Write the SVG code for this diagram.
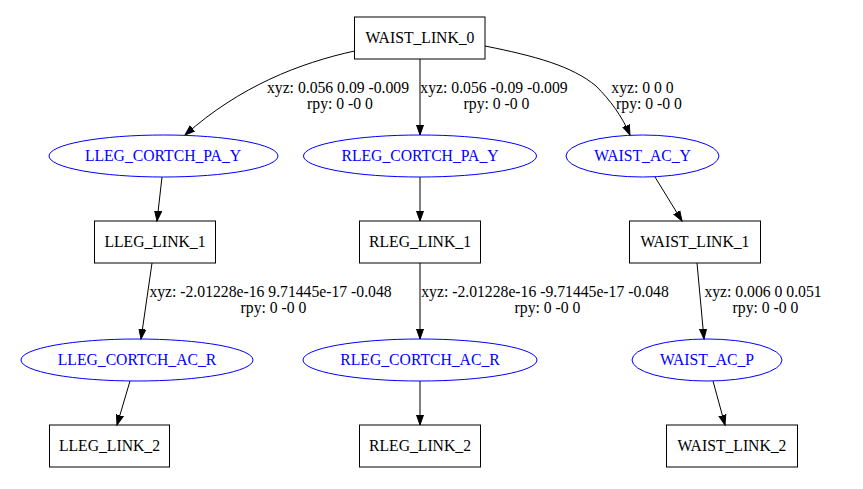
<svg xmlns="http://www.w3.org/2000/svg" width="863" height="489" viewBox="0 0 863 489" font-family="'Liberation Serif', 'Times New Roman', Times, serif" font-size="15.7">
<defs>
<marker id="ah" markerUnits="userSpaceOnUse" markerWidth="12" markerHeight="10" refX="10" refY="0" viewBox="0 -5 12 10" orient="auto">
<path d="M0,-3.5 L10,0 L0,3.5 Z" fill="#000" stroke="#000" stroke-width="1"/>
</marker>
</defs>
<style>
text{font-family:'Liberation Serif','Times New Roman',Times,serif;font-size:15.7px;text-anchor:middle}
.link rect{fill:none;stroke:#000;stroke-width:1}
.link text{fill:#000}
.joint ellipse{fill:none;stroke:#0000ff;stroke-width:1}
.joint text{fill:#0000ff}
.edge{fill:none;stroke:#000;stroke-width:1;marker-end:url(#ah)}
.lbl{fill:#000}
</style>
<rect width="863" height="489" fill="#fff"/>
<g id="connectors">
<path class="edge" d="M354.5,51 C300,63 240,86 185,135"/>
<path class="edge" d="M420,59 L420,135"/>
<path class="edge" d="M485,46 C535,56 572,66 596,86 C610,100 622,116 630,135"/>
<path class="edge" d="M162,177 L157,221"/>
<path class="edge" d="M420,177 L420,221"/>
<path class="edge" d="M655,177 L682,221"/>
<path class="edge" d="M152,263 L141,339"/>
<path class="edge" d="M420,263 L420,339"/>
<path class="edge" d="M697,263 L704,339"/>
<path class="edge" d="M130,381 L117,425"/>
<path class="edge" d="M420,381 L420,425"/>
<path class="edge" d="M713,381 L725,425"/>
<g class="lbl">
<text x="338" y="93">xyz: 0.056 0.09 -0.009</text>
<text x="340" y="109">rpy: 0 -0 0</text>
<text x="494" y="93">xyz: 0.056 -0.09 -0.009</text>
<text x="496.5" y="109">rpy: 0 -0 0</text>
<text x="642.5" y="93">xyz: 0 0 0</text>
<text x="649" y="109">rpy: 0 -0 0</text>
<text x="270.5" y="297">xyz: -2.01228e-16 9.71445e-17 -0.048</text>
<text x="273.5" y="313">rpy: 0 -0 0</text>
<text x="545" y="297">xyz: -2.01228e-16 -9.71445e-17 -0.048</text>
<text x="547.5" y="313">rpy: 0 -0 0</text>
<text x="763" y="297">xyz: 0.006 0 0.051</text>
<text x="765.5" y="313">rpy: 0 -0 0</text>
</g>
</g>
<g id="WAIST_LINK_0" class="link"><rect x="354.5" y="17" width="130.5" height="42"/><text x="420" y="43">WAIST_LINK_0</text></g>
<g id="LLEG_CORTCH_PA_Y" class="joint"><ellipse cx="163.5" cy="156" rx="114.5" ry="21"/><text x="163" y="161">LLEG_CORTCH_PA_Y</text></g>
<g id="RLEG_CORTCH_PA_Y" class="joint"><ellipse cx="420" cy="156" rx="116.5" ry="21"/><text x="420" y="161">RLEG_CORTCH_PA_Y</text></g>
<g id="WAIST_AC_Y" class="joint"><ellipse cx="642.5" cy="156" rx="76.5" ry="21"/><text x="642.5" y="161">WAIST_AC_Y</text></g>
<g id="LLEG_LINK_1" class="link"><rect x="94.5" y="221" width="121" height="42"/><text x="155" y="247">LLEG_LINK_1</text></g>
<g id="RLEG_LINK_1" class="link"><rect x="359.5" y="221" width="121" height="42"/><text x="420" y="247">RLEG_LINK_1</text></g>
<g id="WAIST_LINK_1" class="link"><rect x="629.5" y="221" width="131" height="42"/><text x="695" y="247">WAIST_LINK_1</text></g>
<g id="LLEG_CORTCH_AC_R" class="joint"><ellipse cx="137" cy="360" rx="116" ry="21"/><text x="137" y="365">LLEG_CORTCH_AC_R</text></g>
<g id="RLEG_CORTCH_AC_R" class="joint"><ellipse cx="420" cy="360" rx="117" ry="21"/><text x="420" y="365">RLEG_CORTCH_AC_R</text></g>
<g id="WAIST_AC_P" class="joint"><ellipse cx="707" cy="360" rx="75" ry="21"/><text x="707" y="365">WAIST_AC_P</text></g>
<g id="LLEG_LINK_2" class="link"><rect x="49.5" y="425" width="120" height="42"/><text x="109.5" y="451">LLEG_LINK_2</text></g>
<g id="RLEG_LINK_2" class="link"><rect x="359.5" y="425" width="121" height="42"/><text x="420" y="451">RLEG_LINK_2</text></g>
<g id="WAIST_LINK_2" class="link"><rect x="666.5" y="425" width="131" height="42"/><text x="732" y="451">WAIST_LINK_2</text></g>
</svg>
